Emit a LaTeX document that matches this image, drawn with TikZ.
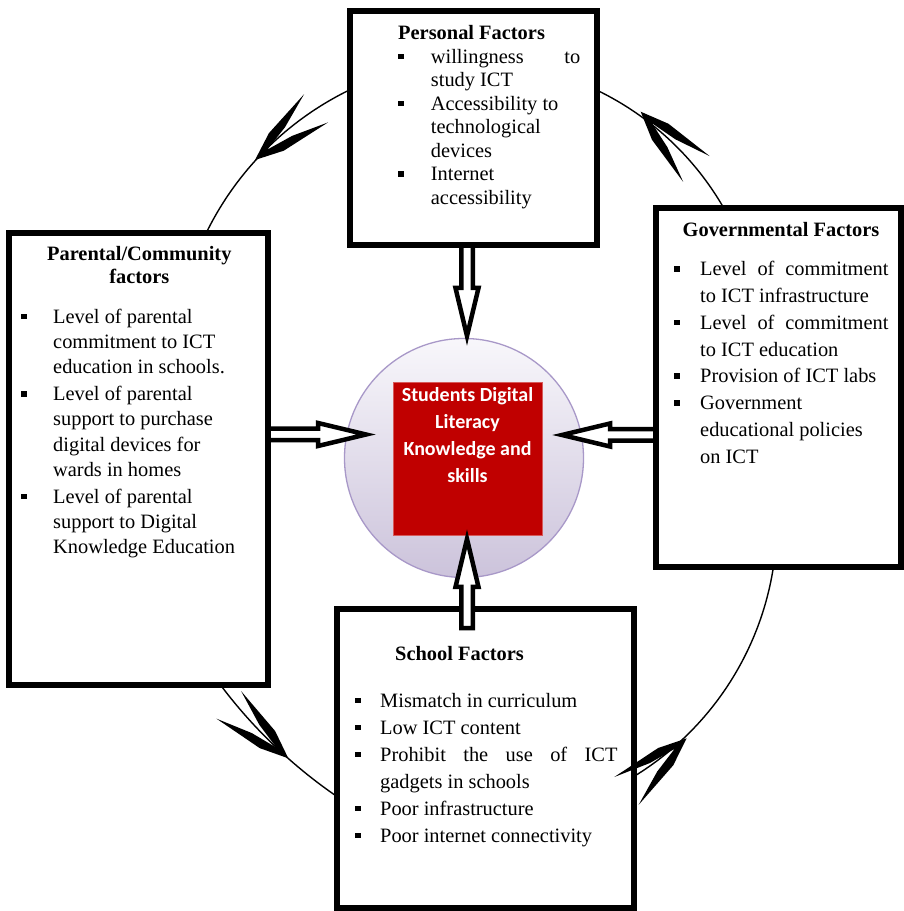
\documentclass[tikz,border=0pt]{standalone}
\usepackage{fontspec}
\setmainfont{Liberation Serif}
\newfontfamily\calib{Carlito}
\usetikzlibrary{calc,backgrounds}
\definecolor{coreRed}{HTML}{C00000}
\definecolor{coreEdge}{HTML}{D65A5A}
\definecolor{circEdge}{HTML}{A898C8}
\definecolor{circTop}{HTML}{F8F7FB}
\definecolor{circBot}{HTML}{CCC3DB}
\newcommand{\bul}[1]{\makebox[#1][l]{\raisebox{4pt}{\rule{5.5pt}{5.5pt}}}}
\newcommand{\ind}[1]{\hspace*{#1}}
\newcommand{\blockarrow}[3]{%
  \coordinate (bh) at ($(#2)!48pt!(#1)$);
  \draw[blk] ($(#1)!5.75pt!90:(#2)$) -- ($(bh)!5.75pt!90:(#2)$) -- ($(bh)!11.5pt!90:(#2)$) -- (#2) -- ($(bh)!11.5pt!-90:(#2)$) -- ($(bh)!5.75pt!-90:(#2)$) -- ($(#1)!5.75pt!-90:(#2)$) #3;}
\tikzset{
  box/.style={draw, line width=5.5pt, fill=white, inner sep=0pt, rectangle},
  cyc/.style={line width=1.4pt},
  blk/.style={draw, line width=4.5pt, fill=white, miter limit=12},
  txt/.style={inner sep=0pt, anchor=base west},
  hd/.style={inner sep=0pt, font=\fontsize{20.4}{23}\selectfont\bfseries},
  barb/.pic={\fill[black] (0,0) -- (28,11.5) -- (80,18.5) -- (44,5.6) -- (16,0) -- (44,-5.6) -- (80,-18.5) -- (28,-11.5) -- cycle;}
}
\begin{document}
\begin{tikzpicture}[x=1pt,y=1pt]
\useasboundingbox (0,0) rectangle (904,911);
% ---------- factor boxes ----------
\node[box, minimum width=247pt, minimum height=234pt] (pers) at (473.5,783) {};
\node[box, minimum width=259pt, minimum height=452pt] (par) at (138.5,452) {};
\node[box, minimum width=245pt, minimum height=359pt] (gov) at (778.5,523.5) {};
\node[box, minimum width=297pt, minimum height=299pt] (sch) at (485.5,152.5) {};

% ---------- box texts ----------
\node[hd, anchor=base west] (persH) at (398,871.7) {Personal Factors};
\node[txt, font=\fontsize{20.4}{23.5}\selectfont] (persL) at (398,847.7) {\parbox[t]{200pt}{\raggedright
\bul{32.7pt}\makebox[149.3pt][s]{willingness to}\\
\ind{32.7pt}study ICT\\
\bul{32.7pt}Accessibility to\\
\ind{32.7pt}technological\\
\ind{32.7pt}devices\\
\bul{32.7pt}Internet\\
\ind{32.7pt}accessibility}};

\node[hd, anchor=base] (parH) at (139.3,650.3) {\parbox[t]{240pt}{\centering Parental/Community\\[-0.4pt] factors}};
\node[txt, font=\fontsize{20.4}{25.3}\selectfont] (parL) at (21,587.7) {\parbox[t]{240pt}{\raggedright
\bul{32pt}Level of parental\\
\ind{32pt}commitment to ICT\\
\ind{32pt}education in schools.\\[1.5pt]
\bul{32pt}Level of parental\\
\ind{32pt}support to purchase\\
\ind{32pt}digital devices for\\
\ind{32pt}wards in homes\\[1.5pt]
\bul{32pt}Level of parental\\
\ind{32pt}support to Digital\\
\ind{32pt}Knowledge Education}};

\node[hd, anchor=base] (govH) at (781,674.3) {Governmental Factors};
\node[txt, font=\fontsize{20.4}{26.8}\selectfont] (govL) at (674,635.3) {\parbox[t]{230pt}{\raggedright
\bul{26pt}\makebox[188.3pt][s]{Level of commitment}\\
\ind{26pt}to ICT infrastructure\\
\bul{26pt}\makebox[188.3pt][s]{Level of commitment}\\
\ind{26pt}to ICT education\\
\bul{26pt}Provision of ICT labs\\
\bul{26pt}Government\\
\ind{26pt}educational policies\\
\ind{26pt}on ICT}};

\node[hd, anchor=base west] (schH) at (395,250.3) {School Factors};
\node[txt, font=\fontsize{20.4}{27}\selectfont] (schL) at (355,203.7) {\parbox[t]{280pt}{\raggedright
\bul{25pt}Mismatch in curriculum\\
\bul{25pt}Low ICT content\\
\bul{25pt}\makebox[237.3pt][s]{Prohibit the use of ICT}\\
\ind{25pt}gadgets in schools\\
\bul{25pt}Poor infrastructure\\
\bul{25pt}Poor internet connectivity}};

% ---------- underneath layer ----------
\begin{scope}[on background layer]
\fill[white] (0,0) rectangle (904,911);
% cycle arcs (centres of the four arcs)
\coordinate (c1) at (485.6,541.4);
\coordinate (c2) at (469.8,556.8);
\coordinate (c3) at (477.9,389.6);
\coordinate (c4) at (618.7,525.1);
\coordinate (a1) at ($(c1)+(114:311pt)$);
\coordinate (a2) at ($(c2)+(28:293pt)$);
\coordinate (a3) at ($(c3)+(-61:299pt)$);
\coordinate (a4) at ($(c4)+(215:498pt)$);
\draw[cyc] (a1) arc[start angle=114, end angle=156, radius=311pt];
\draw[cyc] (a2) arc[start angle=28, end angle=66, radius=293pt];
\draw[cyc] (a3) arc[start angle=-61, end angle=-7, radius=299pt];
\draw[cyc] (a4) arc[start angle=215, end angle=237.5, radius=498pt];
% centre circle and core
\node[circle, draw=circEdge, line width=1.3pt, top color=circTop, bottom color=circBot, minimum size=239pt, inner sep=0pt] (circ) at (464,453) {};
\node[draw=coreEdge, line width=0.7pt, fill=coreRed, minimum width=149pt, minimum height=153pt, inner sep=0pt] (core) at (467.5,452.5) {};
\node[inner sep=0pt, anchor=base, text=white, font=\calib\bfseries\fontsize{20}{27}\selectfont] (coretxt) at (467.5,509) {\parbox[t]{160pt}{\centering Students Digital\\ Literacy\\ Knowledge and\\ skills}};
% block arrows into the circle
\coordinate (tipT) at (467,575);
\coordinate (tipL) at (366,476.5);
\coordinate (tipR) at (562,476);
\coordinate (sT) at (tipT |- pers.south);
\coordinate (sL) at (tipL -| par.east);
\coordinate (sR) at (tipR -| gov.west);
\blockarrow{sT}{tipT}{}
\blockarrow{sL}{tipL}{}
\blockarrow{sR}{tipR}{}
\end{scope}

% bottom block arrow (drawn over the school box)
\coordinate (tipB) at (467,372);
\coordinate (sB) at ($(tipB |- sch.north)+(0,-22)$);
\blockarrow{sB}{tipB}{-- cycle}

% barbed arrowheads on the cycle
\coordinate (ap1) at (255,751);
\coordinate (ap2) at (640.7,799.3);
\coordinate (ap3) at (686.7,172.7);
\coordinate (ap4) at (288.3,152.7);
\pic[rotate=40.25] at (ap1) {barb};
\pic[rotate=-45.8] at (ap2) {barb};
\pic[rotate=221.15] at (ap3) {barb};
\pic[rotate=138.1] at (ap4) {barb};
\end{tikzpicture}
\end{document}
